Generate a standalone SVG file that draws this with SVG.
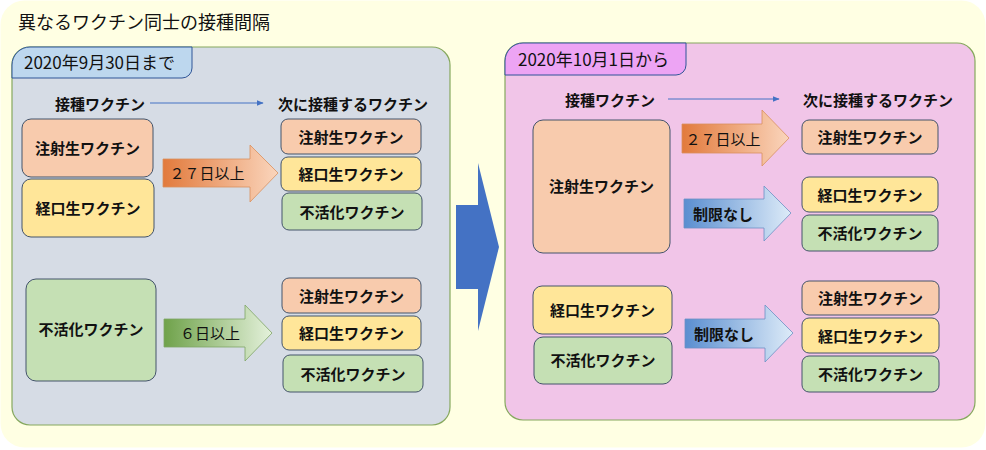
<svg xmlns="http://www.w3.org/2000/svg" width="986" height="450" viewBox="0 0 986 450">
<defs>
<linearGradient id="gOrange" x1="0" y1="0" x2="1" y2="0">
<stop offset="0" stop-color="#E27A3C"/><stop offset="1" stop-color="#FAD5BC"/>
</linearGradient>
<linearGradient id="gGreen" x1="0" y1="0" x2="1" y2="0">
<stop offset="0" stop-color="#6FA24A"/><stop offset="1" stop-color="#E4F1DB"/>
</linearGradient>
<linearGradient id="gBlue" x1="0" y1="0" x2="1" y2="0">
<stop offset="0" stop-color="#5A8ED0"/><stop offset="1" stop-color="#DDEBF8"/>
</linearGradient>
<marker id="ah" viewBox="0 0 10 10" refX="9" refY="5" markerWidth="7" markerHeight="7" orient="auto" markerUnits="userSpaceOnUse">
<path d="M0,1 L10,5 L0,9 z" fill="#4472C4"/>
</marker>
</defs>
<style>
text{font-family:"Noto Sans CJK JP","Noto Sans",sans-serif;fill:#111;dominant-baseline:central;text-anchor:middle}
.t{font-size:15px;font-weight:bold}
.hd{font-size:15px;font-weight:bold;text-anchor:start}
.tab{font-size:17px;text-anchor:start}
.box{stroke:#44546A;stroke-width:1}
.or{fill:#F8CBAD}.ye{fill:#FFE699}.gr{fill:#C5E0B4}
.panel{stroke:#86A85E;stroke-width:1.2}
.hline{stroke:#4472C4;stroke-width:1;fill:none}
</style>
<rect x="0.5" y="0.5" width="985" height="447" rx="24" fill="#FFFFE3"/>
<text x="18" y="21" style="font-size:18px;text-anchor:start">異なるワクチン同士の接種間隔</text>

<g id="panel-left">
<rect class="panel" x="12" y="47" width="438" height="378" rx="18" fill="#D6DCE5"/>
<path d="M12,78 L12,65 A18,18 0 0 1 30,47 L192,47 L192,68 A10,10 0 0 1 182,78 Z" fill="#BDD7EE" stroke="#2F5597" stroke-width="1"/>
<text class="tab" x="24" y="61">2020年9月30日まで</text>
<text class="hd" x="55" y="103">接種ワクチン</text>
<text class="hd" x="278" y="103">次に接種するワクチン</text>
</g>

<g id="panel-right">
<rect class="panel" x="505" y="43" width="470" height="377" rx="18" fill="#F1C5E8"/>
<path d="M505,75 L505,61 A18,18 0 0 1 523,43 L686,43 L686,65 A10,10 0 0 1 676,75 Z" fill="#EDA4F4" stroke="#2F5597" stroke-width="1"/>
<text class="tab" x="518" y="58">2020年10月1日から</text>
<text class="hd" x="565" y="99">接種ワクチン</text>
<text class="hd" x="803" y="99">次に接種するワクチン</text>
</g>

<g id="L-src-inj"><rect class="box or" x="22" y="119" width="131" height="58" rx="9"/><text class="t" x="87.5" y="147">注射生ワクチン</text></g>
<g id="L-src-oral"><rect class="box ye" x="22" y="179" width="132" height="58" rx="9"/><text class="t" x="88" y="207">経口生ワクチン</text></g>
<g id="L-dst1-inj"><rect class="box or" x="281" y="119" width="140" height="35" rx="7"/><text class="t" x="351" y="136">注射生ワクチン</text></g>
<g id="L-dst1-oral"><rect class="box ye" x="281" y="157" width="140" height="34" rx="7"/><text class="t" x="351" y="173.5">経口生ワクチン</text></g>
<g id="L-dst1-inact"><rect class="box gr" x="282" y="193" width="140" height="37" rx="7"/><text class="t" x="352" y="211">不活化ワクチン</text></g>

<g id="L-src-inact"><rect class="box gr" x="26" y="279" width="130" height="102" rx="10"/><text class="t" x="91" y="328">不活化ワクチン</text></g>
<g id="L-dst2-inj"><rect class="box or" x="282" y="278" width="139" height="35" rx="7"/><text class="t" x="351.5" y="295">注射生ワクチン</text></g>
<g id="L-dst2-oral"><rect class="box ye" x="282" y="316" width="139" height="34" rx="7"/><text class="t" x="351.5" y="332.5">経口生ワクチン</text></g>
<g id="L-dst2-inact"><rect class="box gr" x="283" y="355" width="140" height="37" rx="7"/><text class="t" x="353" y="373">不活化ワクチン</text></g>

<g id="R-src-inj"><rect class="box or" x="533" y="120" width="137" height="133" rx="10"/><text class="t" x="601.5" y="185">注射生ワクチン</text></g>
<g id="R-dst1-inj"><rect class="box or" x="802" y="120" width="136" height="34" rx="7"/><text class="t" x="870" y="136.5">注射生ワクチン</text></g>
<g id="R-dst2-oral"><rect class="box ye" x="802" y="177" width="136" height="35" rx="7"/><text class="t" x="870" y="194">経口生ワクチン</text></g>
<g id="R-dst2-inact"><rect class="box gr" x="802" y="215" width="136" height="36" rx="7"/><text class="t" x="870" y="232.5">不活化ワクチン</text></g>

<g id="R-src-oral"><rect class="box ye" x="533" y="286" width="139" height="48" rx="9"/><text class="t" x="602.5" y="309">経口生ワクチン</text></g>
<g id="R-src-inact"><rect class="box gr" x="534" y="337" width="138" height="47" rx="9"/><text class="t" x="603" y="359.5">不活化ワクチン</text></g>
<g id="R-dst3-inj"><rect class="box or" x="802" y="281" width="137" height="34" rx="7"/><text class="t" x="870.5" y="297.5">注射生ワクチン</text></g>
<g id="R-dst3-oral"><rect class="box ye" x="802" y="318" width="137" height="35" rx="7"/><text class="t" x="870.5" y="335">経口生ワクチン</text></g>
<g id="R-dst3-inact"><rect class="box gr" x="802" y="356" width="137" height="36" rx="7"/><text class="t" x="870.5" y="373.5">不活化ワクチン</text></g>

<g id="connectors">
<line class="hline" x1="150" y1="103" x2="263" y2="103" marker-end="url(#ah)"/>
<line class="hline" x1="668" y1="99" x2="779" y2="99" marker-end="url(#ah)"/>
<polygon points="163,159 250,159 250,145 278,173 250,202 250,187 163,187" fill="url(#gOrange)" stroke="#D9905E" stroke-width="0.8"/>
<text class="t" x="207" y="172" style="font-weight:normal">２７日以上</text>
<polygon points="164,319 245,319 245,305 272,333 245,361 245,347 164,347" fill="url(#gGreen)" stroke="#7FA565" stroke-width="0.8"/>
<text class="t" x="210" y="332" style="font-weight:normal">６日以上</text>
<polygon points="682,124 762,124 762,110 789,138 762,166 762,153 682,153" fill="url(#gOrange)" stroke="#D9905E" stroke-width="0.8"/>
<text class="t" x="723" y="138" style="font-weight:normal">２７日以上</text>
<polygon points="684,199 764,199 764,186 791,213 764,241 764,228 684,228" fill="url(#gBlue)" stroke="#6C90C4" stroke-width="0.8"/>
<text class="t" x="723" y="213">制限なし</text>
<polygon points="685,319 765,319 765,305 793,333 765,362 765,348 685,348" fill="url(#gBlue)" stroke="#6C90C4" stroke-width="0.8"/>
<text class="t" x="724" y="333">制限なし</text>
<polygon points="456,205 478,205 478,163 499,247 478,331 478,289 456,289" fill="#4472C4"/>
</g>
</svg>
